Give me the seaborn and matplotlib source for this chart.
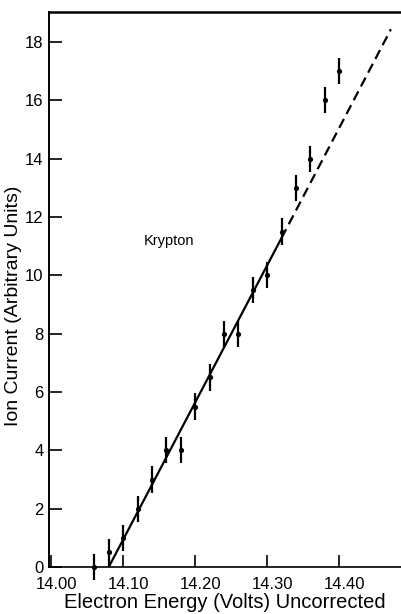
import matplotlib
matplotlib.use("Agg")
import matplotlib.pyplot as plt
import matplotlib.transforms as mtransforms
import seaborn as sns
import pandas as pd

# Data
energy = [14.06, 14.08, 14.10, 14.12, 14.14, 14.16, 14.18, 14.20, 14.22,
          14.24, 14.26, 14.28, 14.30, 14.32, 14.34, 14.36, 14.38, 14.40]
current = [0.0, 0.5, 1.0, 2.0, 3.0, 4.0, 4.0, 5.5, 6.5,
           8.0, 8.0, 9.5, 10.0, 11.5, 13.0, 14.0, 16.0, 17.0]
err = [0.45] * len(energy)

fit_solid_x = [14.08, 14.32]
fit_solid_y = [0.0, 11.28]
fit_dash_x = [14.32, 14.472]
fit_dash_y = [11.28, 18.44]

xticks = [14.00, 14.10, 14.20, 14.30, 14.40]
xticklabels = ["14.00", "14.10", "14.20", "14.30", "14.40"]
yticks = [0, 2, 4, 6, 8, 10, 12, 14, 16, 18]

sns.set_theme(style="ticks")
plt.rcParams['font.family'] = ['Liberation Sans', 'DejaVu Sans']

fig = plt.figure(figsize=(4.01, 6.14), dpi=100)
W, H = 401, 614
ax = fig.add_axes([49 / W, 1 - 567 / H, (W - 49) / W, (567 - 12) / H])

df = pd.DataFrame({"x": energy, "y": current, "e": err})
eb = ax.errorbar(df["x"], df["y"], yerr=df["e"], fmt="none", ecolor="black",
                 elinewidth=1.6, capsize=0, zorder=3)
for c in eb.get_children():
    c.set_clip_on(False)
sns.scatterplot(data=df, x="x", y="y", ax=ax, color="black", s=14,
                edgecolor="black", linewidth=0, zorder=4, clip_on=False)
sns.lineplot(x=fit_solid_x, y=fit_solid_y, ax=ax, color="black", lw=1.6)
sns.lineplot(x=fit_dash_x, y=fit_dash_y, ax=ax, color="black", lw=1.6,
             dashes=False, linestyle=(0, (4.5, 2.5)))

ax.set_xlim(13.997, 14.486)
ax.set_ylim(0, 19.03)
ax.set_xticks(xticks)
ax.set_xticklabels(xticklabels)
ax.set_yticks(yticks)

for s in ["left", "bottom", "top"]:
    ax.spines[s].set_visible(True)
    ax.spines[s].set_color("black")
ax.spines["left"].set_linewidth(1.4)
ax.spines["bottom"].set_linewidth(1.2)
ax.spines["top"].set_linewidth(1.8)
ax.spines["right"].set_visible(False)

ax.tick_params(axis="both", direction="in", length=9, width=1.2,
               colors="black", labelsize=12)
ax.tick_params(axis="y", pad=4)
ax.tick_params(axis="x", pad=7)

# shift x tick labels slightly right as in the original
offset = mtransforms.ScaledTranslation(5 / 100, 0, fig.dpi_scale_trans)
for lab in ax.get_xticklabels():
    lab.set_transform(lab.get_transform() + offset)

ax.set_xlabel("Electron Energy (Volts) Uncorrected", fontsize=14.5,
              color="black")
ax.set_ylabel("Ion Current (Arbitrary Units)", fontsize=14,
              color="black")
ax.xaxis.set_label_coords(0.5, -0.046)
ax.yaxis.set_label_coords(-0.1, 0.47)
ax.yaxis.label.set_va("center")
ax.xaxis.label.set_va("top")
ax.text(14.128, 11.18, "Krypton", fontsize=10.5, color="black",
        va="center", ha="left")

fig.savefig("out.png", dpi=100)
